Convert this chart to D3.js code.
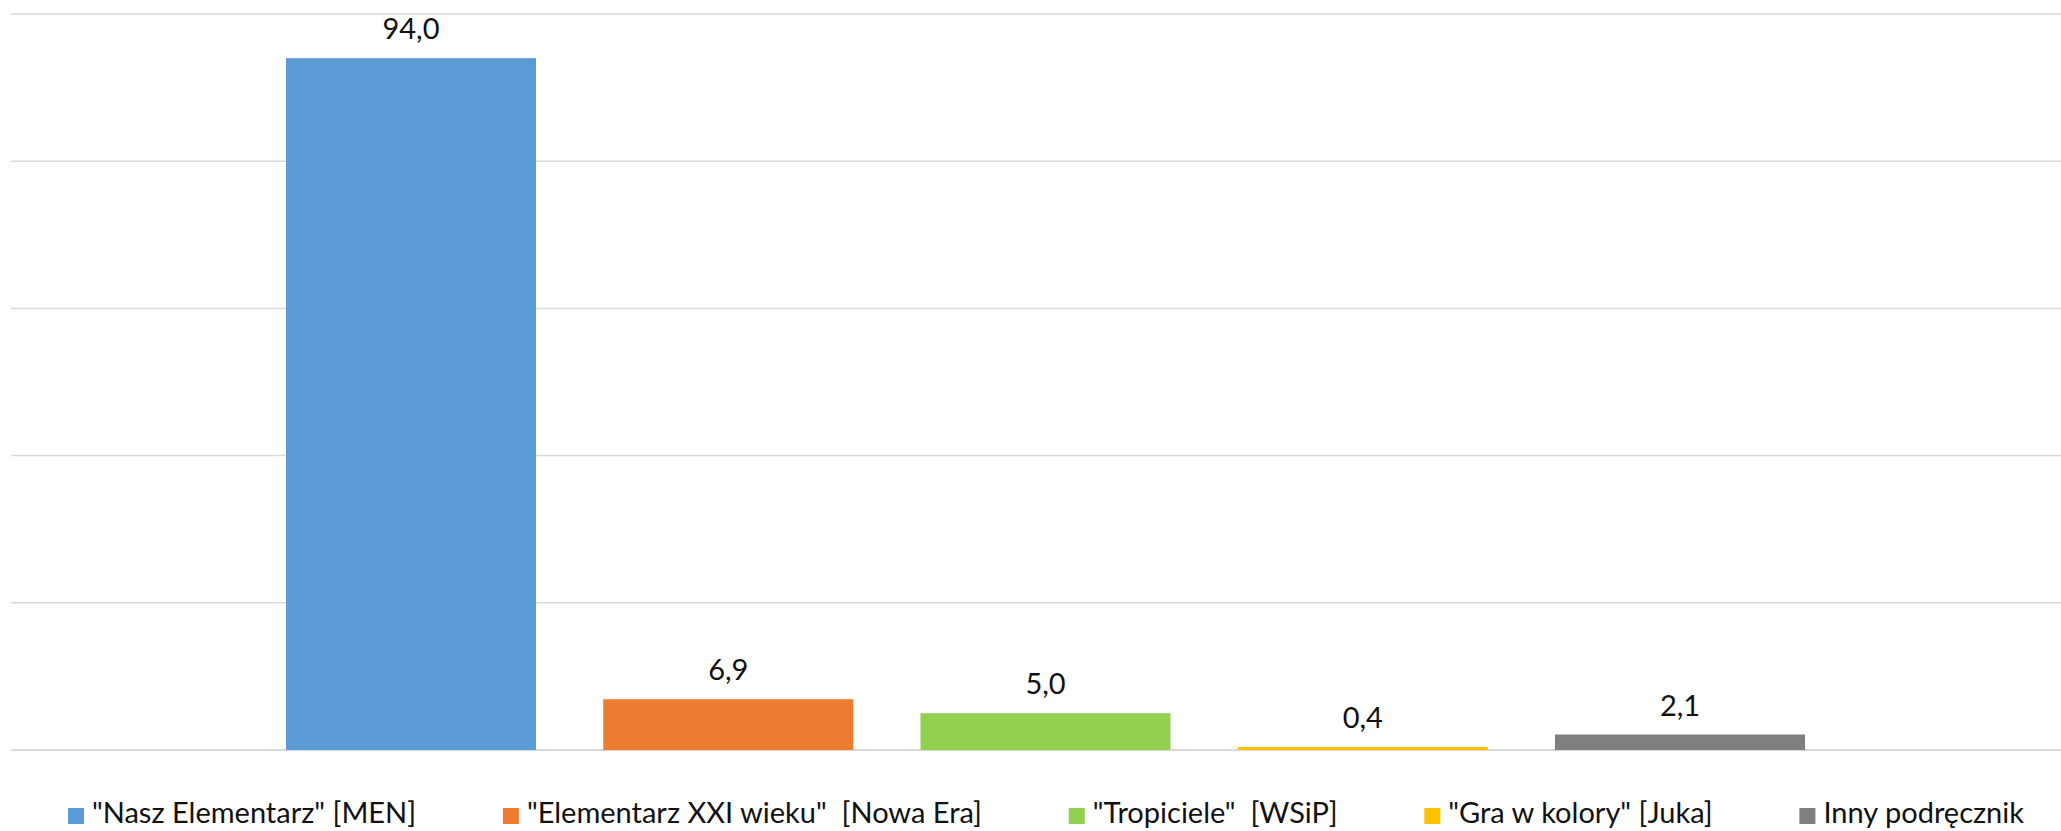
<!DOCTYPE html>
<html>
<head>
<meta charset="utf-8">
<script src="https://cdn.jsdelivr.net/npm/d3@7"></script>
<style>
  body { margin: 0; background: #fff; }
  text { font-family: Lato, "Open Sans", sans-serif; white-space: pre; }
</style>
</head>
<body>
<div id="chart"></div>
<script>
// data
const series = ['"Nasz Elementarz" [MEN]', '"Elementarz XXI wieku"  [Nowa Era]', '"Tropiciele"  [WSiP]', '"Gra w kolory" [Juka]', 'Inny podręcznik'];
const values = [94.0, 6.9, 5.0, 0.4, 2.1];
const colors = ['#5B9BD5', '#ED7D31', '#92D050', '#FFC000', '#7F7F7F'];
const yTicks = [0, 20, 40, 60, 80, 100];

const width = 2061, height = 831;
const fmt = (v) => d3.format('.1f')(v).replace('.', ',');

const svg = d3.select('#chart')
  .append('svg')
  .attr('width', width)
  .attr('height', height);

const x = d3.scaleBand().domain(series).range([286, 1805]).paddingInner(0.212).paddingOuter(0);
const y = d3.scaleLinear().domain([0, 100]).range([750, 14]);

// gridlines
svg.selectAll('.grid')
  .data(yTicks)
  .enter()
  .append('line')
  .attr('class', 'grid')
  .attr('x1', 11)
  .attr('x2', width)
  .attr('y1', (d) => y(d))
  .attr('y2', (d) => y(d))
  .attr('stroke', '#d9d9d9')
  .attr('stroke-width', (d) => (d === 0 ? 2 : 1.5));

svg.selectAll('.bar')
  .data(values)
  .enter()
  .append('rect')
  .attr('class', 'bar')
  .attr('x', (d, i) => x(series[i]))
  .attr('width', x.bandwidth())
  .attr('y', (d) => y(d))
  .attr('height', (d) => y(0) - y(d))
  .attr('fill', (d, i) => colors[i]);

svg.selectAll('.bar-label')
  .data(values)
  .enter()
  .append('text')
  .attr('class', 'bar-label')
  .attr('x', (d, i) => x(series[i]) + x.bandwidth() / 2)
  .attr('y', (d) => y(d) - 19)
  .attr('text-anchor', 'middle')
  .attr('font-size', 29)
  .attr('fill', '#111')
  .text((d) => fmt(d));

// legend, spread between the left and right edges seen in the reference
const legend = svg.append('g');
const items = legend.selectAll('.item')
  .data(series)
  .enter()
  .append('g')
  .attr('class', 'item');

items.append('rect')
  .attr('y', 808)
  .attr('width', 16)
  .attr('height', 16)
  .attr('fill', (d, i) => colors[i]);

items.append('text')
  .attr('x', 24)
  .attr('y', 823)
  .attr('font-size', 29)
  .attr('fill', '#111')
  .text((d) => d);

const widths = [];
items.each(function () {
  widths.push(24 + d3.select(this).select('text').node().getComputedTextLength());
});
const left = 68, right = 2024;
const gap = (right - left - d3.sum(widths)) / (series.length - 1);
let pos = left;
items.attr('transform', (d, i) => {
  const t = `translate(${pos},0)`;
  pos += widths[i] + gap;
  return t;
});
</script>
</body>
</html>
